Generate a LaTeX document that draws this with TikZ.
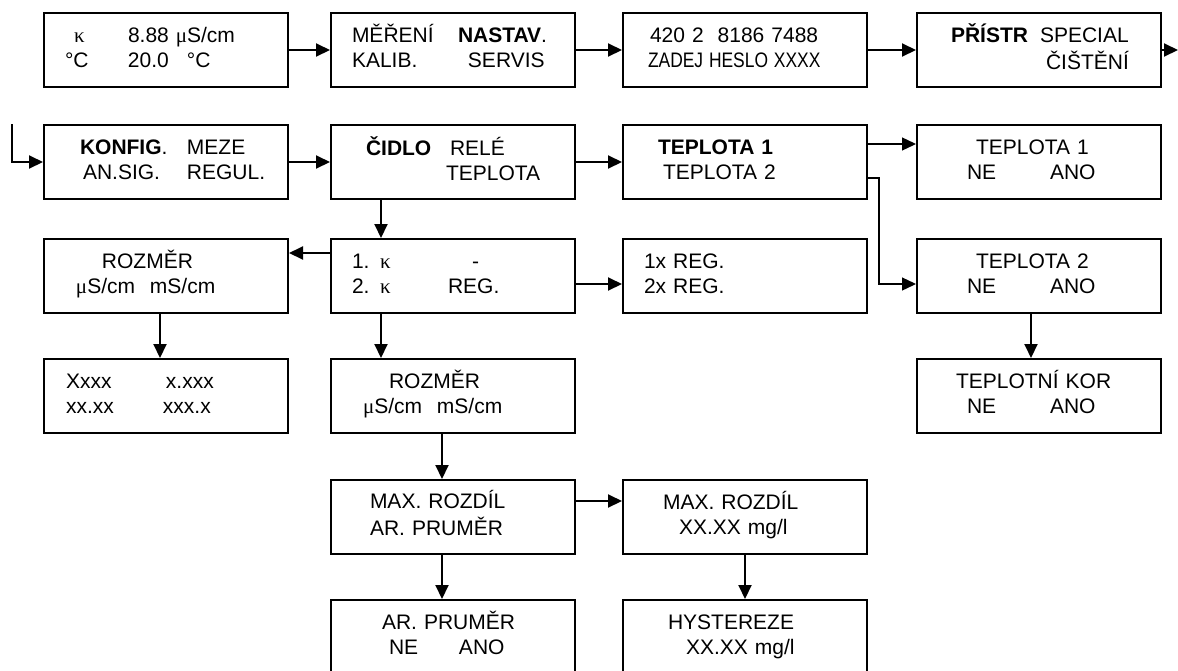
\documentclass[tikz,border=0pt]{standalone}
\usepackage{fontspec}
\usepackage{graphicx}
\setmainfont{Liberation Sans}
\newfontfamily\symfont{Liberation Serif}
\usetikzlibrary{arrows.meta}
\setlength\parindent{0pt}
% text piece at a fixed offset from the left edge of a screen
\newcommand\putat[2]{\leavevmode\rlap{\hspace{#1pt}\strut#2}}
\newcommand\kap{{\symfont κ}}
\newcommand\usiem{{\symfont μ}S/cm}

\begin{document}
\begin{tikzpicture}[x=1pt,y=-1pt,
   screen/.style={draw,line width=2pt,text width=244pt,minimum height=74pt,
      inner xsep=0pt,align=left,font=\fontsize{21}{25}\selectfont},
   go/.style={-{Triangle[length=14pt,width=13pt]},line width=2pt},
   thin go/.style={go,line width=1.3pt}]

\useasboundingbox (0,0) rectangle (1178,670);

% first row
\node[screen] (disp) at (166,50) {\putat{30}{\kap}\putat{84}{8.88 \usiem}\\\putat{21}{°C}\putat{84}{20.0}\putat{143}{°C}};
\node[screen] (menu) at (453,50) {\putat{21}{MĚŘENÍ}\putat{127}{\textbf{NASTAV}.}\\\putat{21}{KALIB.}\putat{137}{SERVIS}};
\node[screen] (heslo) at (745,50) {\putat{27}{420 2\ \ 8186 7488}\\\putat{25}{\scalebox{0.83}[1]{ZADEJ HESLO XXXX}}};
\node[screen] (nastav) at (1039,50) {\putat{34}{\textbf{PŘÍSTR}}\putat{123}{SPECIAL}\\\putat{129}{ČIŠTĚNÍ}};

% second row
\node[screen] (konfig) at (166,162) {\putat{36}{\textbf{KONFIG}.}\putat{143}{MEZE}\\\putat{39}{AN.SIG.}\putat{143}{REGUL.}};
\node[screen] (cidlo) at (453,162) {\putat{35}{\textbf{ČIDLO}}\putat{119}{RELÉ}\\\putat{115}{TEPLOTA}};
\node[screen] (tepl) at (745,162) {\putat{35}{\textbf{TEPLOTA 1}}\\\putat{40}{TEPLOTA 2}};
\node[screen] (tepla) at (1039,162) {\putat{59}{TEPLOTA 1}\\\putat{50}{NE}\putat{133}{ANO}};

% third row
\node[screen] (rozmA) at (166,276) {\putat{58}{ROZMĚR}\\\putat{32}{\usiem}\putat{106}{mS/cm}};
\node[screen] (kanal) at (453,276) {\putat{21}{1. \kap}\putat{141}{-}\\\putat{21}{2. \kap}\putat{117}{REG.}};
\node[screen] (reg) at (745,276) {\putat{21}{1x REG.}\\\putat{21}{2x REG.}};
\node[screen] (teplb) at (1039,276) {\putat{59}{TEPLOTA 2}\\\putat{50}{NE}\putat{133}{ANO}};

% fourth row
\node[screen] (rozsah) at (166,396) {\putat{22}{Xxxx}\putat{122}{x.xxx}\\\putat{22}{xx.xx}\putat{119}{xxx.x}};
\node[screen] (rozmB) at (453,396) {\putat{58}{ROZMĚR}\\\putat{32}{\usiem}\putat{106}{mS/cm}};
\node[screen] (korekce) at (1039,396) {\putat{39}{TEPLOTNÍ KOR}\\\putat{50}{NE}\putat{133}{ANO}};

% regulation
\node[screen] (maxroz) at (453,517) {\putat{39}{MAX. ROZDÍL}\\\putat{39}{AR. PRUMĚR}};
\node[screen] (mezmax) at (745,517) {\putat{40}{MAX. ROZDÍL}\\\putat{56}{XX.XX mg/l}};
\node[screen] (prumer) at (453,637) {\putat{51}{AR. PRUMĚR}\\\putat{58}{NE}\putat{128}{ANO}};
\node[screen] (hyst) at (745,637) {\putat{45}{HYSTEREZE}\\\putat{63}{XX.XX mg/l}};

\coordinate (in) at (12,124);
\coordinate (out) at (1178,50);

\draw[go] (disp) -- (menu);
\draw[go] (menu) -- (heslo);
\draw[go] (heslo) -- (nastav);
\draw[go] (nastav) -- (out);
\draw[go] (in) |- (konfig);
\draw[go] (konfig) -- (cidlo);
\draw[go] (cidlo) -- (tepl);
\draw[thin go] ([yshift=18pt]tepl.east) -- ([yshift=18pt]tepla.west);
\draw[thin go] ([yshift=-16pt]tepl.east) -- ++(11,0) |- ([yshift=-8pt]teplb.west);
\draw[go] ([xshift=51pt]cidlo.south west) -- ([xshift=51pt]kanal.north west);
\draw[go] ([yshift=23pt]kanal.west) -- ([yshift=23pt]rozmA.east);
\draw[go] ([yshift=-8pt]kanal.east) -- ([yshift=-8pt]reg.west);
\draw[go] ([xshift=51pt]kanal.south west) -- ([xshift=51pt]rozmB.north west);
\draw[go] ([xshift=-6pt]rozmA.south) -- ([xshift=-6pt]rozsah.north);
\draw[go] ([xshift=-8pt]teplb.south) -- ([xshift=-8pt]korekce.north);
\draw[go] ([xshift=-11pt]rozmB.south) -- ([xshift=-11pt]maxroz.north);
\draw[go] ([xshift=-11pt]maxroz.south) -- ([xshift=-11pt]prumer.north);
\draw[go] ([yshift=16pt]maxroz.east) -- ([yshift=16pt]mezmax.west);
\draw[go] (mezmax) -- (hyst);

\end{tikzpicture}
\end{document}
